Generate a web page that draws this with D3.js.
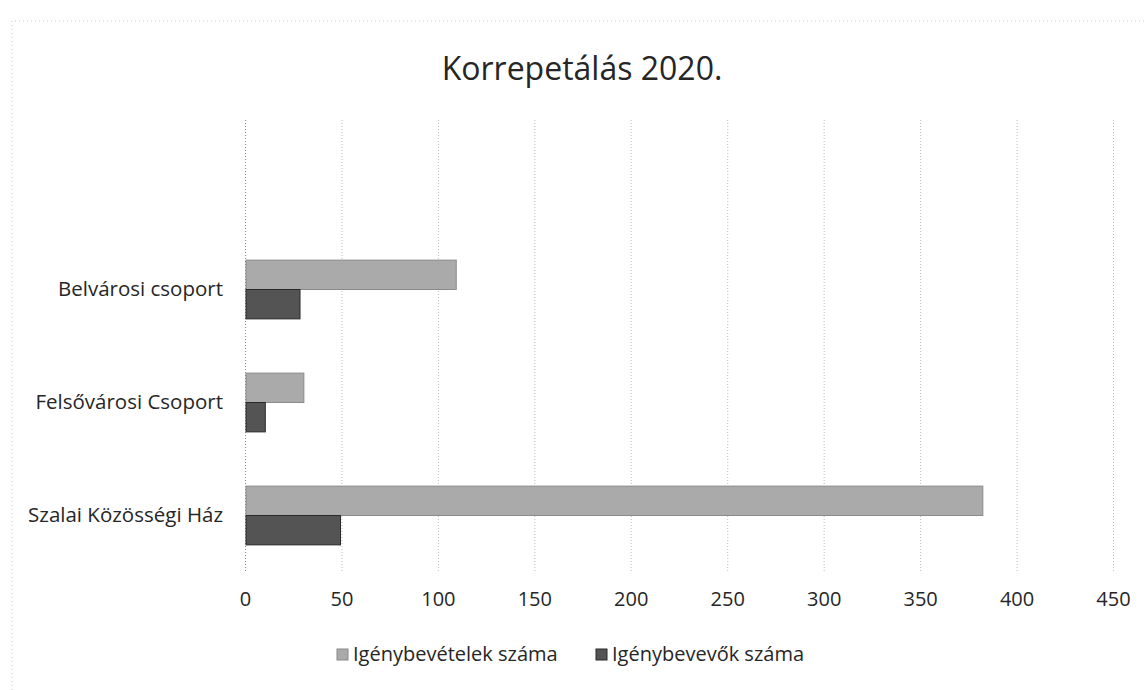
<!DOCTYPE html>
<html>
<head>
<meta charset="utf-8">
<script src="https://cdn.jsdelivr.net/npm/d3@7"></script>
<style>
  body { margin: 0; background: #fff; }
  text { font-family: "Open Sans", "Noto Sans", sans-serif; fill: #262626; }
  .grid line { stroke: #bdbdbd; stroke-dasharray: 1,2; }
</style>
</head>
<body>
<script>
const w = 1147;
const h = 690;
const margin = {left:245, right:34, top:120, bottom:118};

const title = "Korrepetálás 2020.";
// top to bottom, as in the picture (the slot above Belvárosi is empty)
const categories = ["Belvárosi csoport", "Felsővárosi Csoport", "Szalai Közösségi Ház"];
const seriesNames = ["Igénybevételek száma", "Igénybevevők száma"];
const igenybevetelek = [109, 30, 382];
const igenybevevok = [28, 10, 49];
const xTicks = [0, 50, 100, 150, 200, 250, 300, 350, 400, 450];
const colors = ["#aaaaaa", "#545454"];

const innerW = w - margin.left - margin.right;
const innerH = h - margin.top - margin.bottom;

const rows = categories.map((c, i) => ({cat: c, vals: [igenybevetelek[i], igenybevevok[i]]}));

const svg = d3.select("body").append("svg")
    .attr("width", w)
    .attr("height", h);

// faint dotted frame of the chart area
svg.append("path")
    .attr("d", "M12,690 L12,21 L1147,21")
    .attr("fill", "none")
    .attr("stroke", "#c8c8c8")
    .attr("stroke-dasharray", "1,3");

svg.append("text")
    .attr("x", 582)
    .attr("y", 80)
    .attr("text-anchor", "middle")
    .style("font-size", "32px")
    .text(title);

const x = d3.scaleLinear().domain([0, 450]).range([0, innerW]);
const y = d3.scaleBand()
    .domain([" "].concat(categories))
    .range([0, innerH])
    .paddingInner(0.48)
    .paddingOuter(0.24);
const ySub = d3.scaleBand().domain([0, 1]).range([0, y.bandwidth()]);

const g = svg.append("g")
    .attr("transform", "translate(" + margin.left + "," + margin.top + ")");

//gridlines
g.append("g")
    .attr("class", "grid")
    .selectAll("line")
    .data(xTicks)
    .enter().append("line")
    .attr("x1", d => x(d) + 0.5)
    .attr("x2", d => x(d) + 0.5)
    .attr("y1", 0)
    .attr("y2", innerH)
    .style("stroke", d => d === 0 ? "#8c8c8c" : null);

//x tick labels
const xAxis = d3.axisBottom(x).tickValues(xTicks).tickSize(0).tickPadding(0);
g.append("g")
    .attr("transform", "translate(0," + (innerH + 20) + ")")
    .call(xAxis)
    .call(s => s.select(".domain").remove())
    .selectAll("text")
    .attr("fill", "#262626")
    .style("font-size", "20px")
    .style("font-family", "\"Open Sans\", sans-serif");

//y category labels
const yAxis = d3.axisLeft(y).tickSize(0).tickPadding(22);
g.append("g")
    .call(yAxis)
    .call(s => s.select(".domain").remove())
    .selectAll("text")
    .attr("fill", "#262626")
    .style("font-size", "20.5px")
    .style("font-family", "\"Open Sans\", sans-serif");

//bars
const groups = g.selectAll(".cat")
    .data(rows)
    .enter().append("g")
    .attr("class", "cat")
    .attr("transform", d => "translate(0," + y(d.cat) + ")");

groups.selectAll("rect")
    .data(d => d.vals)
    .enter().append("rect")
    .attr("x", x(0) + 1)
    .attr("y", (d, i) => ySub(i))
    .attr("width", d => x(d) - x(0))
    .attr("height", ySub.bandwidth())
    .attr("fill", (d, i) => colors[i])
    .attr("stroke", (d, i) => i === 0 ? "#8a8a8a" : "#2a2a2a")
    .attr("stroke-width", 1);

//legend
const legendPos = [337, 596];
const legend = svg.append("g").selectAll("g")
    .data(seriesNames)
    .enter().append("g")
    .attr("transform", (d, i) => "translate(" + legendPos[i] + ",649)");
legend.append("rect")
    .attr("width", 11)
    .attr("height", 11)
    .attr("fill", (d, i) => colors[i])
    .attr("stroke", (d, i) => i === 0 ? "#8a8a8a" : "#2a2a2a");
legend.append("text")
    .attr("x", 16)
    .attr("y", 12)
    .style("font-size", "20px")
    .text(d => d);
</script>
</body>
</html>
